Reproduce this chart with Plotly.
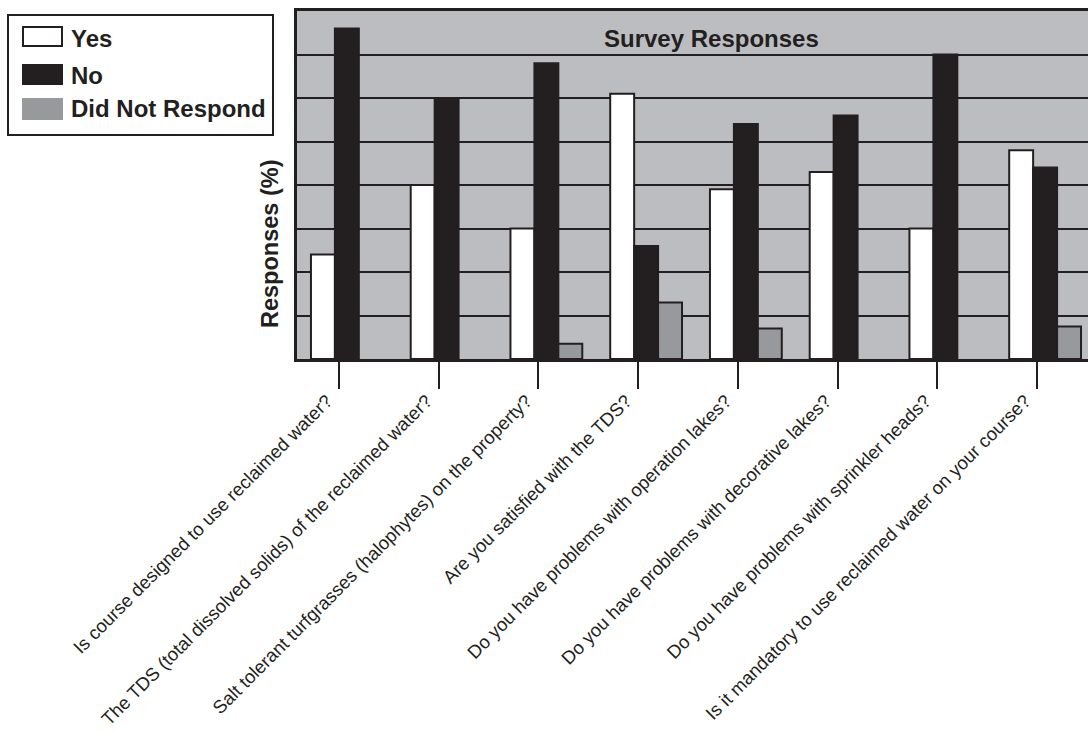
import plotly.graph_objects as go

categories = [
    "Is course designed to use reclaimed water?",
    "The TDS (total dissolved solids) of the reclaimed water?",
    "Salt tolerant turfgrasses (halophytes) on the property?",
    "Are you satisfied with the TDS?",
    "Do you have problems with operation lakes?",
    "Do you have problems with decorative lakes?",
    "Do you have problems with sprinkler heads?",
    "Is it mandatory to use reclaimed water on your course?",
]
yes_vals = [24, 40, 30, 61, 39, 43, 30, 48]
no_vals = [76, 60, 68, 26, 54, 56, 70, 44]
dnr_vals = [0, 0, 3.5, 13, 7, 0, 0, 7.5]
series_names = ["Yes", "No", "Did Not Respond"]

W, H = 1088, 732
L, R, T, B = 297, 0, 11, 373
PW, PH = W - L - R, H - T - B
FONT = "Liberation Sans, Arial, Helvetica, sans-serif"
DARK = "#231f20"


def px(x):
    return (x - L) / PW


def py(y):
    return (H - B - y) / PH


def nz(vals):
    return [v if v else None for v in vals]


xs = list(range(len(categories)))
fig = go.Figure()
fig.add_trace(go.Bar(x=xs, y=nz(yes_vals), name=series_names[0], marker=dict(color="white", line=dict(color=DARK, width=2))))
fig.add_trace(go.Bar(x=xs, y=nz(no_vals), name=series_names[1], marker=dict(color=DARK, line=dict(color=DARK, width=2))))
fig.add_trace(go.Bar(x=xs, y=nz(dnr_vals), name=series_names[2], marker=dict(color="#98999c", line=dict(color=DARK, width=2))))

fig.update_layout(
    width=W, height=H,
    margin=dict(l=L, r=R, t=T, b=B, pad=0, autoexpand=False),
    paper_bgcolor="white",
    plot_bgcolor="#bcbdc1",
    barmode="group",
    bargap=0.28,
    bargroupgap=0,
    showlegend=False,
    font=dict(family=FONT, color=DARK),
)
fig.update_xaxes(
    range=[-0.5, 7.43], automargin=False,
    tickvals=[x - 0.08 for x in xs], ticktext=categories, tickangle=-45,
    tickfont=dict(size=18.5, family=FONT, color=DARK),
    ticklabelshift=-12, ticklabelstandoff=-6,
    ticks="outside", ticklen=27, tickwidth=2, tickcolor=DARK,
    showline=True, linecolor=DARK, linewidth=3, mirror=True,
    showgrid=False, zeroline=False,
)
fig.update_yaxes(
    range=[0, 80], dtick=10, showticklabels=False, ticks="", automargin=False,
    showgrid=True, gridcolor=DARK, gridwidth=2,
    showline=True, linecolor=DARK, linewidth=3, zeroline=False,
)

annotations = [
    dict(text="<b>Survey Responses</b>", x=px(711), y=py(38.5), xref="paper", yref="paper",
         showarrow=False, font=dict(size=24, family=FONT, color=DARK), xanchor="center", yanchor="middle"),
    dict(text="<b>Responses (%)</b>", x=px(270), y=py(244), xref="paper", yref="paper",
         showarrow=False, textangle=-90, font=dict(size=23.5, family=FONT, color=DARK), xanchor="center", yanchor="middle"),
]
shapes = [
    dict(type="rect", xref="paper", yref="paper", x0=px(8), x1=px(273), y0=py(15), y1=py(135),
         line=dict(color=DARK, width=2), fillcolor="white", layer="above"),
]
legend_rows = [(27, 46, 38), (65, 84, 75), (99, 119, 108)]
legend_fill = ["white", DARK, "#98999c"]
legend_line = [DARK, DARK, "#98999c"]
for name, (y0, y1, yc), fc, lc in zip(series_names, legend_rows, legend_fill, legend_line):
    shapes.append(dict(type="rect", xref="paper", yref="paper", x0=px(23), x1=px(62), y0=py(y0), y1=py(y1),
                       line=dict(color=lc, width=2), fillcolor=fc, layer="above"))
    annotations.append(dict(text="<b>%s</b>" % name, x=px(69), y=py(yc), xref="paper", yref="paper",
                            showarrow=False, font=dict(size=24, family=FONT, color=DARK),
                            xanchor="left", yanchor="middle"))
fig.update_layout(annotations=annotations, shapes=shapes)

fig.write_html("out.html")
